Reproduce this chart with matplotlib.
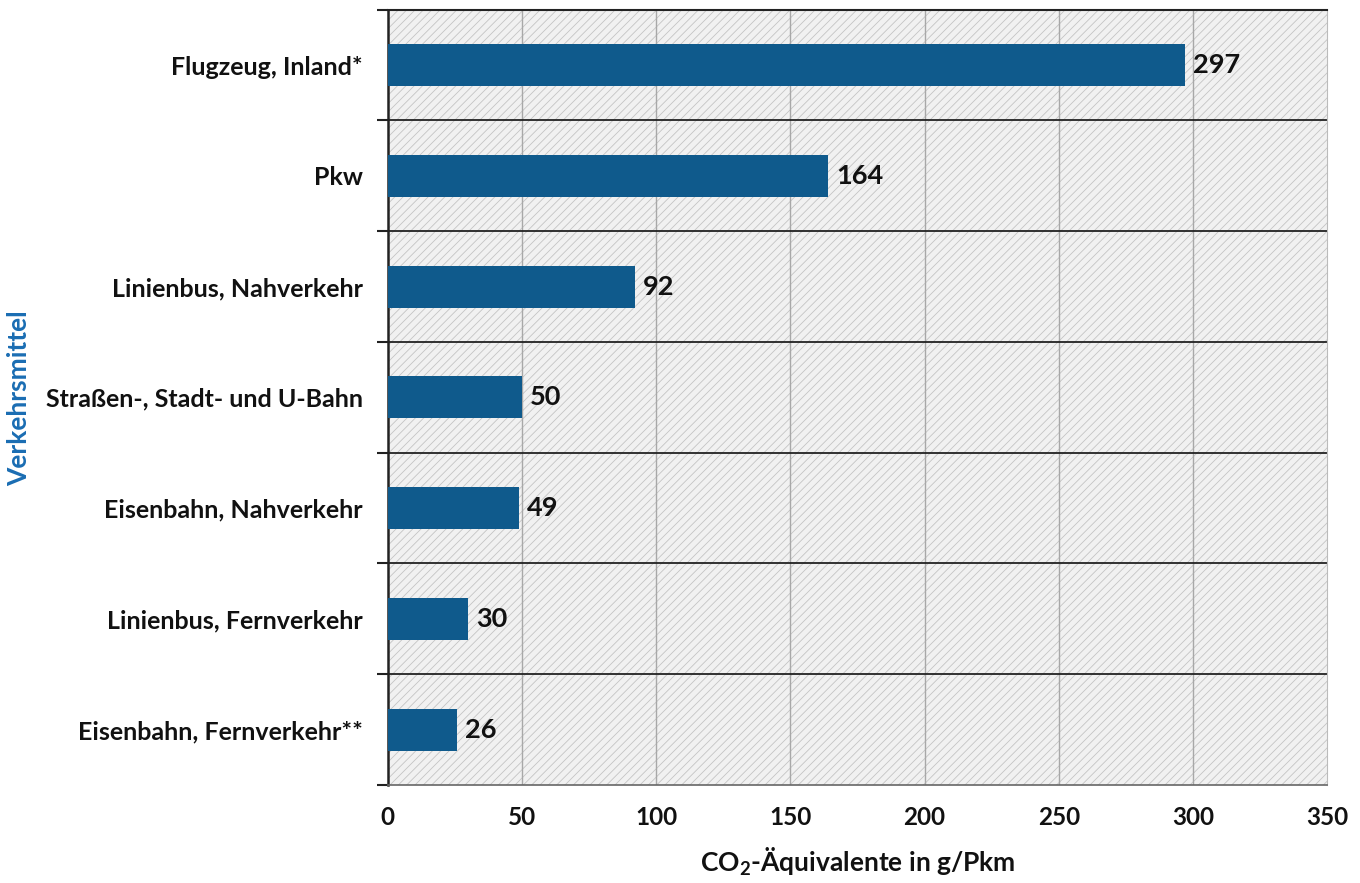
import matplotlib.pyplot as plt
import numpy as np

# data, top to bottom as in the chart
modes = ['Flugzeug, Inland*', 'Pkw', 'Linienbus, Nahverkehr',
         'Straßen-, Stadt- und U-Bahn', 'Eisenbahn, Nahverkehr',
         'Linienbus, Fernverkehr', 'Eisenbahn, Fernverkehr**']
co2 = [297, 164, 92, 50, 49, 30, 26]
xticks = [0, 50, 100, 150, 200, 250, 300, 350]

plt.rcParams['font.family'] = ['Lato', 'DejaVu Sans']
plt.rcParams['font.weight'] = 'bold'
plt.rcParams['mathtext.fontset'] = 'custom'
plt.rcParams['mathtext.rm'] = 'Lato:bold'
plt.rcParams['mathtext.bf'] = 'Lato:bold'
plt.rcParams['hatch.linewidth'] = 0.6
plt.rcParams['hatch.color'] = '#c4c4c4'

BAR = '#0f5a8c'

fig = plt.figure(figsize=(13.6, 8.83), dpi=100)
ax = fig.add_axes([0.285, 0.111, 0.691, 0.878])

n = len(modes)
ypos = np.arange(n)[::-1]

# hatched grey background
ax.patch.set_facecolor('#f1f1f1')
bg = plt.Rectangle((0, 0), 1, 1, transform=ax.transAxes, facecolor='none',
                   edgecolor='#c4c4c4', hatch='////', lw=0, zorder=0)
ax.add_patch(bg)

ax.set_xlim(0, 350)
ax.set_ylim(-0.5, n - 0.5)

for x in xticks[1:-1]:
    ax.axvline(x, color='#a8a8a8', lw=1.0, zorder=1)
for b in np.arange(0.5, n - 1, 1.0):
    ax.axhline(b, color='#222222', lw=1.3, zorder=1)

ax.barh(ypos, co2, height=0.38, color=BAR, zorder=3)
for y, v in zip(ypos, co2):
    ax.text(v + 3, y, str(v), va='center', ha='left', fontsize=19.5,
            fontweight='bold', color='#111111')

ax.set_yticks(ypos)
ax.set_yticklabels(modes, fontsize=18, fontweight='bold', color='#111111')
ax.tick_params(axis='y', which='major', length=0, pad=18)
ax.set_yticks(np.arange(-0.5, n, 1.0), minor=True)
ax.tick_params(axis='y', which='minor', length=8, width=1.5, color='#222222')

ax.set_xticks(xticks)
ax.set_xticklabels([str(t) for t in xticks], fontsize=17.5, fontweight='bold',
                   color='#111111')
ax.tick_params(axis='x', length=0, pad=15)

ax.spines['left'].set_color('#222222')
ax.spines['left'].set_linewidth(1.8)
ax.spines['top'].set_color('#222222')
ax.spines['top'].set_linewidth(1.5)
ax.spines['bottom'].set_color('#666666')
ax.spines['bottom'].set_linewidth(1.2)
ax.spines['right'].set_color('#bbbbbb')

ax.set_xlabel(r'CO$_\mathbf{2}$-Äquivalente in g/Pkm', fontsize=19,
              fontweight='bold', color='#111111', labelpad=12)
fig.text(0.014, 0.549, 'Verkehrsmittel', rotation=90, va='center', ha='center',
         fontsize=19, fontweight='bold', color='#1a6db3')

fig.savefig('out.png', dpi=100)
